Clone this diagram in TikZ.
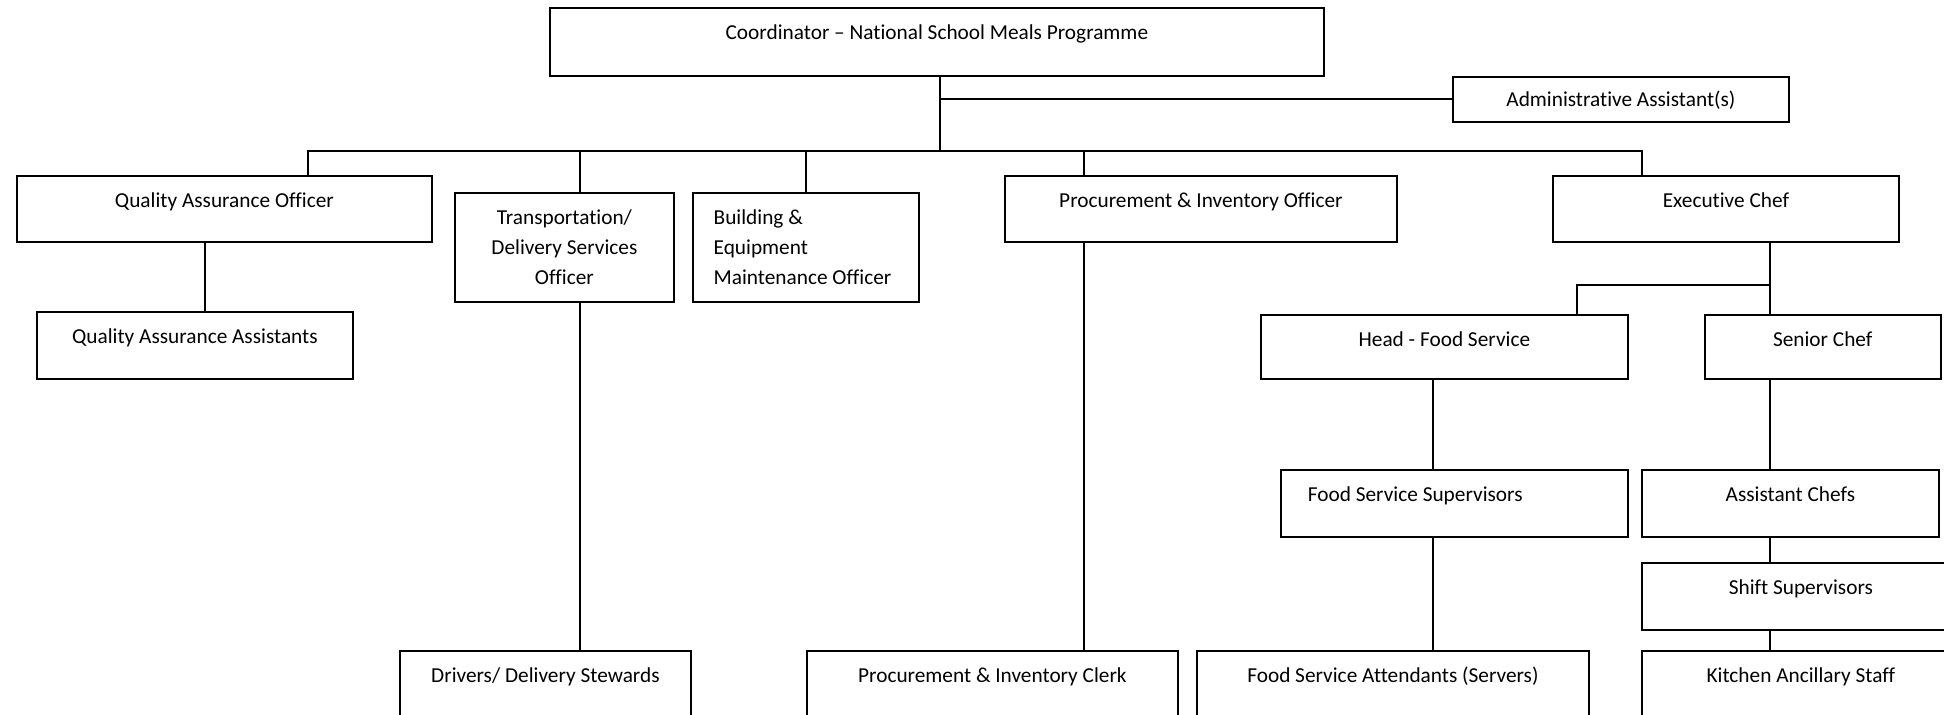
\documentclass[tikz,border=0pt]{standalone}
\usepackage{fontspec}
\setmainfont[Ligatures={NoCommon}]{Carlito}
\usetikzlibrary{positioning}
\tikzstyle{post}=[draw, anchor=north west, inner sep=0pt, align=center, text height=16pt, execute at begin node={\spaceskip=0.226em\relax}]

\begin{document}
\begin{tikzpicture}[x=0.5pt, y=-0.5pt, line width=0.9pt, font=\fontsize{10.65pt}{14.85pt}\selectfont]
	\useasboundingbox (0,0) rectangle (1944,715);
	% head and office
	\node[post, text width=387pt, text depth=18pt] (coord) at (549,7) {Coordinator – National School Meals Programme};
	\node[post, text width=168pt, text height=15pt, text depth=7.5pt] (admin) at (1452,76) {Administrative Assistant(s)};
	% officers
	\node[post, text width=207.5pt, text depth=17pt] (qao) at (16,175) {Quality Assurance Officer};
	\node[post, text width=109.5pt, text depth=38.5pt] (trans) at (454,192) {Transportation/\\Delivery Services\\Officer};
	\node[post, align=left, inner xsep=10.5pt, text width=92pt, text depth=38.5pt, right=8.5pt of trans] (build) {Building \&\\Equipment\\Maintenance~Officer};
	\node[post, text width=196pt, text depth=17pt] (pio) at (1004,175) {Procurement \& Inventory Officer};
	\node[post, text width=173pt, text depth=17pt] (exec) at (1552,175) {Executive Chef};
	% second level
	\node[post, text width=158pt, text depth=17.5pt] (qaa) at (36,311) {Quality Assurance Assistants};
	\node[post, text width=183.5pt, text depth=16pt] (hfs) at (1260,314) {Head - Food Service};
	\node[post, text width=118pt, text depth=16pt, right=37.5pt of hfs] (senior) {Senior Chef};
	\node[post, align=left, inner xsep=13.5pt, text width=146.5pt, text depth=17.5pt] (fss) at (1280,469) {Food Service Supervisors};
	\node[post, text width=148.5pt, text depth=17.5pt] (asst) at (1641,469) {Assistant Chefs};
	\node[post, text width=159pt, text depth=17.5pt] (shift) at (1641,562) {Shift Supervisors};
	% staff
	\node[post, text width=145.5pt, text depth=24pt] (drivers) at (399,650) {Drivers/ Delivery Stewards};
	\node[post, text width=185.5pt, text depth=24pt] (pic) at (806,650) {Procurement \& Inventory Clerk};
	\node[post, text width=196pt, text depth=24pt] (fsa) at (1196,650) {Food Service Attendants (Servers)};
	\node[post, text width=159pt, text depth=24pt] (kitchen) at (1641,650) {Kitchen Ancillary Staff};
	% bus line
	\coordinate (hub) at (940,151);
	\coordinate (bq) at (308,151);
	\coordinate (bt) at (580,151);
	\coordinate (bb) at (806,151);
	\coordinate (bp) at (1084,151);
	\coordinate (be) at (1642,151);
	\coordinate (split) at (1770,285);
	\draw (coord.south -| hub) -- (hub);
	\draw (admin.west -| hub) -- (admin.west);
	\draw (qao.north -| bq) -- (bq) -- (be) -- (exec.north -| be);
	\draw (bt) -- (trans.north -| bt);
	\draw (bb) -- (build.north -| bb);
	\draw (bp) -- (pio.north -| bp);
	% down the columns
	\draw ([xshift=-9.75pt]qao.south) -- ([xshift=5pt]qaa.north);
	\draw (trans.south -| bt) -- (drivers.north -| bt);
	\draw (pio.south -| bp) -- (pic.north -| bp);
	\draw (exec.south -| split) -- (senior.north -| split);
	\draw (split) -| ([xshift=66.25pt]hfs.north);
	\draw ([xshift=-5.75pt]hfs.south) -- ([xshift=-10.75pt]fss.north);
	\draw ([xshift=-10.75pt]fss.south) -- ([xshift=20pt]fsa.north);
	\draw (senior.south -| split) -- (asst.north -| split);
	\draw (asst.south -| split) -- (shift.north -| split);
	\draw (shift.south -| split) -- (kitchen.north -| split);
\end{tikzpicture}
\end{document}
